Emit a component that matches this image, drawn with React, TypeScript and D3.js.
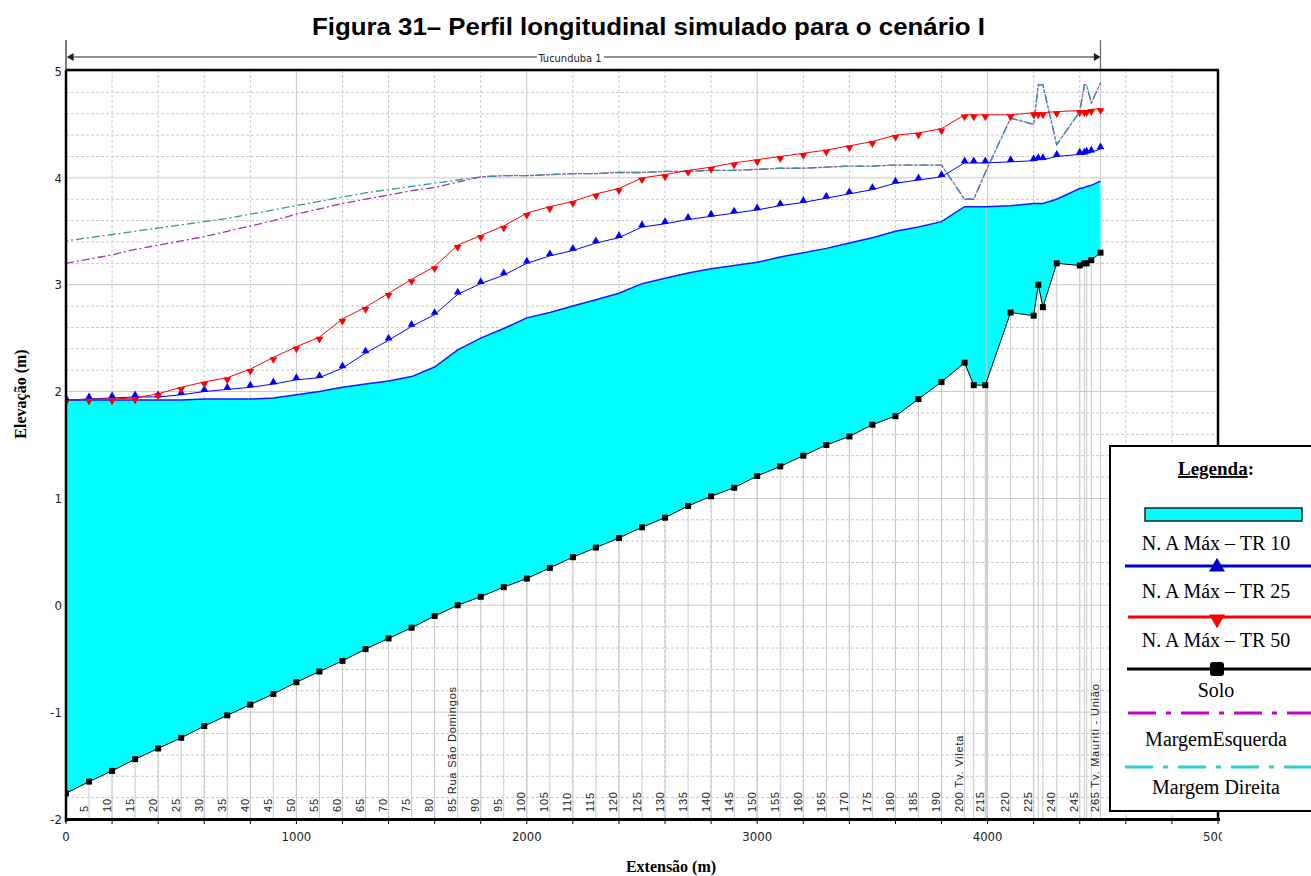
import { useMemo } from "react";
import * as d3 from "d3";

// river stations (m) of the cross sections
const stations = [
  0, 100, 200, 300, 400, 500, 600, 700, 800, 900, 1000, 1100, 1200, 1300, 1400, 1500, 1600, 1700, 1800, 1900,
  2000, 2100, 2200, 2300, 2400, 2500, 2600, 2700, 2800, 2900, 3000, 3100, 3200, 3300, 3400, 3500, 3600, 3700, 3800,
  3900, 3940, 3990, 4100, 4200, 4220, 4240, 4300, 4400, 4420, 4430, 4450, 4490,
];

const solo = [
  -1.76, -1.65, -1.55, -1.44, -1.34, -1.24, -1.13, -1.03, -0.93, -0.83, -0.72, -0.62, -0.52, -0.41, -0.31, -0.21, -0.1,
  0.0, 0.08, 0.17, 0.25, 0.35, 0.45, 0.54, 0.63, 0.73, 0.82, 0.93, 1.02, 1.1, 1.21, 1.3, 1.4, 1.5, 1.58, 1.69, 1.77,
  1.93, 2.09, 2.27, 2.06, 2.06, 2.74, 2.71, 3.0, 2.79, 3.2, 3.18, 3.2, 3.2, 3.23, 3.3,
];

const tr10 = [
  1.92, 1.92, 1.92, 1.92, 1.92, 1.92, 1.93, 1.93, 1.93, 1.94, 1.97, 2.0, 2.04, 2.07, 2.1, 2.14, 2.23, 2.39, 2.5, 2.59,
  2.69, 2.74, 2.8, 2.86, 2.92, 3.01, 3.06, 3.11, 3.15, 3.18, 3.21, 3.26, 3.3, 3.34, 3.39, 3.44, 3.5, 3.54, 3.59, 3.73,
  3.73, 3.73, 3.74, 3.76, 3.76, 3.76, 3.8, 3.9, 3.91, 3.92, 3.93, 3.97,
];

const tr25 = [
  1.92, 1.93, 1.94, 1.95, 1.95, 1.97, 2.0, 2.02, 2.04, 2.07, 2.11, 2.13, 2.22, 2.36, 2.48, 2.61, 2.72, 2.91, 3.01, 3.09,
  3.2, 3.27, 3.32, 3.39, 3.44, 3.54, 3.57, 3.61, 3.64, 3.67, 3.7, 3.74, 3.77, 3.81, 3.85, 3.89, 3.95, 3.98, 4.01, 4.14,
  4.14, 4.14, 4.15, 4.16, 4.17, 4.17, 4.2, 4.22, 4.22, 4.23, 4.24, 4.27,
];

const tr50 = [
  1.92, 1.93, 1.93, 1.94, 1.98, 2.04, 2.09, 2.13, 2.21, 2.32, 2.42, 2.51, 2.68, 2.79, 2.92, 3.05, 3.17, 3.37, 3.46, 3.55,
  3.67, 3.73, 3.78, 3.85, 3.9, 4.0, 4.03, 4.07, 4.1, 4.14, 4.17, 4.2, 4.23, 4.26, 4.3, 4.34, 4.4, 4.42, 4.46, 4.59,
  4.59, 4.59, 4.59, 4.61, 4.61, 4.61, 4.62, 4.63, 4.63, 4.63, 4.64, 4.65,
];

const margemEsquerda = [
  3.2, 3.24, 3.28, 3.33, 3.37, 3.41, 3.45, 3.5, 3.55, 3.6, 3.66, 3.71, 3.76, 3.8, 3.84, 3.88, 3.91, 3.96, 4.01, 4.02,
  4.02, 4.03, 4.04, 4.04, 4.05, 4.05, 4.06, 4.06, 4.07, 4.07, 4.08, 4.09, 4.09, 4.1, 4.11, 4.11, 4.12, 4.12, 4.12, 3.8,
  3.8, 4.05, 4.56, 4.5, 4.87, 4.87, 4.31, 4.62, 4.87, 4.87, 4.7, 4.89,
];

const margemDireita = [
  3.41, 3.44, 3.47, 3.5, 3.53, 3.56, 3.59, 3.62, 3.66, 3.7, 3.74, 3.78, 3.82, 3.86, 3.89, 3.92, 3.95, 3.98, 4.01, 4.02,
  4.02, 4.03, 4.04, 4.04, 4.05, 4.05, 4.06, 4.06, 4.07, 4.07, 4.08, 4.09, 4.09, 4.1, 4.11, 4.11, 4.12, 4.12, 4.12, 3.8,
  3.8, 4.05, 4.56, 4.5, 4.87, 4.87, 4.31, 4.62, 4.87, 4.87, 4.7, 4.89,
];

// labels written at the bottom of the profile
const labelStations = [
  100, 200, 300, 400, 500, 600, 700, 800, 900, 1000, 1100, 1200, 1300, 1400, 1500, 1600, 1700, 1800, 1900, 2000,
  2100, 2200, 2300, 2400, 2500, 2600, 2700, 2800, 2900, 3000, 3100, 3200, 3300, 3400, 3500, 3600, 3700, 3800, 3900,
  3990, 4100, 4200, 4300, 4400, 4490,
];
const labelTexts = [
  "5", "10", "15", "20", "25", "30", "35", "40", "45", "50", "55", "60", "65", "70", "75", "80", "85 Rua São Domingos",
  "90", "95", "100", "105", "110", "115", "120", "125", "130", "135", "140", "145", "150", "155", "160", "165", "170",
  "175", "180", "185", "190", "200 Tv. Vileta", "215", "220", "225", "240", "245", "265 Tv. Mauriti - União",
];

const xTicks = [0, 1000, 2000, 3000, 4000, 5000];
const yTicks = [-2, -1, 0, 1, 2, 3, 4, 5];

const W = 1311;
const H = 876;
const NARROW = "'Liberation Sans Narrow','DejaVu Sans Condensed',Arial,sans-serif";
const SERIF = "'Liberation Serif','Times New Roman',serif";
const GRID = "#c8c8c8";

export default function App() {
  const x = d3.scaleLinear().domain([0, 5000]).range([66, 1218]);
  const y = d3.scaleLinear().domain([-2, 5]).range([819, 71]);
  const idx = stations.map((_, i) => i);

  const paths = useMemo(() => {
    const line = (vals: number[]) =>
      d3
        .line<number>()
        .x((i) => x(stations[i]))
        .y((i) => y(vals[i]))(idx) ?? "";
    const water = d3
      .area<number>()
      .x((i) => x(stations[i]))
      .y0((i) => y(solo[i]))
      .y1((i) => y(tr10[i]))(idx) ?? "";
    return {
      water,
      top10: line(tr10),
      l25: line(tr25),
      l50: line(tr50),
      solo: line(solo),
      me: line(margemEsquerda),
      md: line(margemDireita),
    };
  }, []);

  const tri = d3.symbol(d3.symbolTriangle, 26)() ?? "";
  const bigTri = d3.symbol(d3.symbolTriangle, 110)() ?? "";

  const fineY = d3.range(-2, 5.001, 0.2).map((v) => +v.toFixed(1));
  const fineX = d3.range(0, 5001, 200);

  return (
    <div style={{ position: "absolute", left: 0, top: 0 }}>
      <svg width={W} height={H} style={{ display: "block", background: "#fff" }}>
        <defs>
          <clipPath id="plot">
            <rect x={66} y={70} width={1152} height={749} />
          </clipPath>
          <clipPath id="cut">
            <rect x={0} y={0} width={1222} height={H} />
          </clipPath>
        </defs>

        <text
          x={312}
          y={35}
          textLength={673}
          lengthAdjust="spacingAndGlyphs"
          fontFamily="'Liberation Sans',Arial,sans-serif"
          fontWeight="bold"
          fontSize={23}
        >
          Figura 31– Perfil longitudinal simulado para o cenário I
        </text>

        {/* reach annotation */}
        <g stroke="#222" strokeWidth={1.2}>
          <line x1={66} x2={66} y1={40} y2={70} />
          <line x1={x(4490)} x2={x(4490)} y1={40} y2={70} stroke="#666" />
          <line x1={68} x2={537} y1={57} y2={57} />
          <line x1={604} x2={x(4490) - 2} y1={57} y2={57} />
          <path d={`M${68},57 l5,-3 v6 z`} fill="#222" />
          <path d={`M${x(4490) - 1},57 l-5,-3 v6 z`} fill="#222" />
        </g>
        <text x={570} y={62} textAnchor="middle" fontFamily={NARROW} fontSize={11} fill="#222">
          Tucunduba 1
        </text>

        {/* grid */}
        <g clipPath="url(#plot)">
          {fineY.map((v) => (
            <line
              key={"h" + v}
              x1={66}
              x2={1218}
              y1={y(v)}
              y2={y(v)}
              stroke={GRID}
              strokeWidth={1}
              strokeDasharray={Number.isInteger(v) ? undefined : "3,2"}
            />
          ))}
          {fineX.map((v) => (
            <line
              key={"v" + v}
              x1={x(v)}
              x2={x(v)}
              y1={70}
              y2={819}
              stroke={GRID}
              strokeWidth={1}
              strokeDasharray={v % 1000 === 0 ? undefined : "3,2"}
            />
          ))}

          {/* water surface TR10 */}
          <path d={paths.water} fill="#00ffff" stroke="none" />

          {/* station lines below the ground */}
          {stations.map((s, i) => (
            <line key={"s" + i} x1={x(s)} x2={x(s)} y1={y(solo[i])} y2={819} stroke={GRID} strokeWidth={1} />
          ))}
          <line x1={x(3990) + 1} x2={x(3990) + 1} y1={y(tr10[41])} y2={819} stroke={GRID} strokeWidth={1} />
          <line x1={x(4490)} x2={x(4490)} y1={70} y2={y(tr10[51])} stroke={GRID} strokeWidth={1} />

          {/* station labels */}
          {labelStations.map((s, i) => (
            <text
              key={"lb" + i}
              transform={`translate(${x(s) - 1.5},812) rotate(-90)`}
              fontFamily="'Liberation Sans',Arial,sans-serif"
              fontSize={11}
              letterSpacing={0.8}
              fill="#222"
            >
              {labelTexts[i]}
            </text>
          ))}

          {/* banks */}
          <path d={paths.me} fill="none" stroke="#9b3aa6" strokeWidth={1.3} strokeDasharray="8,3,2,3" />
          <path d={paths.md} fill="none" stroke="#2f9a9a" strokeWidth={1.3} strokeDasharray="8,3,2,3" strokeDashoffset={6} />

          {/* TR10 edge, TR25, TR50 */}
          <path d={paths.top10} fill="none" stroke="#1a1aff" strokeWidth={1.5} />
          <path d={paths.l25} fill="none" stroke="#0000ff" strokeWidth={1} />
          <path d={paths.l50} fill="none" stroke="#ff0000" strokeWidth={1} />
          {stations.map((s, i) => (
            <path key={"t25" + i} d={tri} transform={`translate(${x(s)},${y(tr25[i]) - 2})`} fill="#0000ff" />
          ))}
          {stations.map((s, i) => (
            <path key={"t50" + i} d={tri} transform={`translate(${x(s)},${y(tr50[i]) + 2}) rotate(180)`} fill="#ff0000" />
          ))}

          {/* ground */}
          <path d={paths.solo} fill="none" stroke="#000" strokeWidth={1} />
          {stations.map((s, i) => (
            <rect key={"g" + i} x={x(s) - 3} y={y(solo[i]) - 3} width={6} height={6} fill="#000" />
          ))}
        </g>

        {/* frame & axes */}
        <g stroke="#000" fill="none">
          <line x1={66} x2={1219} y1={70} y2={70} strokeWidth={2.5} />
          <line x1={1218} x2={1218} y1={70} y2={820} strokeWidth={2.5} />
          <line x1={66} x2={66} y1={70} y2={822} strokeWidth={2.5} />
          <line x1={66} x2={1220} y1={819.5} y2={819.5} strokeWidth={3} />
          {fineX.map((v) => (
            <line key={"xt" + v} x1={x(v)} x2={x(v)} y1={819} y2={824} strokeWidth={1} />
          ))}
        </g>

        {yTicks.map((v) => (
          <text key={"yl" + v} x={62} y={y(v)} dy="0.36em" textAnchor="end" fontFamily={NARROW} fontSize={13} fill="#222">
            {v}
          </text>
        ))}
        <g clipPath="url(#cut)">
          {xTicks.map((v) => (
            <text key={"xl" + v} x={x(v)} y={841} textAnchor="middle" fontFamily={NARROW} fontSize={13} fill="#222">
              {v}
            </text>
          ))}
        </g>

        <text x={671} y={872} textAnchor="middle" fontFamily={SERIF} fontWeight="bold" fontSize={16}>
          Extensão (m)
        </text>
        <text transform="translate(26,394) rotate(-90)" textAnchor="middle" fontFamily={SERIF} fontWeight="bold" fontSize={16}>
          Elevação (m)
        </text>

        {/* legend */}
        <g>
          <rect x={1110} y={446} width={215} height={365} fill="#fff" stroke="#000" strokeWidth={2} />
          <text x={1216} y={475} textAnchor="middle" fontFamily={SERIF} fontWeight="bold" fontSize={19}>
            <tspan textDecoration="underline">Legenda</tspan>:
          </text>
          <rect x={1145} y={508} width={157} height={13} fill="#00ffff" stroke="#222" strokeWidth={1.5} />
          <text x={1216} y={550} textAnchor="middle" fontFamily={SERIF} fontSize={20}>
            N. A Máx – TR 10
          </text>
          <line x1={1125} x2={1311} y1={566} y2={566} stroke="#0000cc" strokeWidth={3} />
          <path d={bigTri} transform="translate(1217,567)" fill="#0000cc" />
          <text x={1216} y={598} textAnchor="middle" fontFamily={SERIF} fontSize={20}>
            N. A Máx – TR 25
          </text>
          <line x1={1128} x2={1311} y1={617} y2={617} stroke="#ff0000" strokeWidth={3} />
          <path d={bigTri} transform="translate(1217,619) rotate(180)" fill="#ff0000" />
          <text x={1216} y={647} textAnchor="middle" fontFamily={SERIF} fontSize={20}>
            N. A Máx – TR 50
          </text>
          <line x1={1127} x2={1311} y1={669} y2={669} stroke="#000" strokeWidth={3} />
          <rect x={1210} y={662} width={14} height={14} rx={3} fill="#000" />
          <text x={1216} y={697} textAnchor="middle" fontFamily={SERIF} fontSize={20}>
            Solo
          </text>
          <line x1={1128} x2={1311} y1={713} y2={713} stroke="#cc00cc" strokeWidth={3} strokeDasharray="28,10,5,10" />
          <text x={1216} y={746} textAnchor="middle" fontFamily={SERIF} fontSize={20}>
            MargemEsquerda
          </text>
          <line x1={1125} x2={1311} y1={767} y2={767} stroke="#33cccc" strokeWidth={3} strokeDasharray="28,10,5,10" />
          <text x={1216} y={794} textAnchor="middle" fontFamily={SERIF} fontSize={20}>
            Margem Direita
          </text>
        </g>
      </svg>
    </div>
  );
}
